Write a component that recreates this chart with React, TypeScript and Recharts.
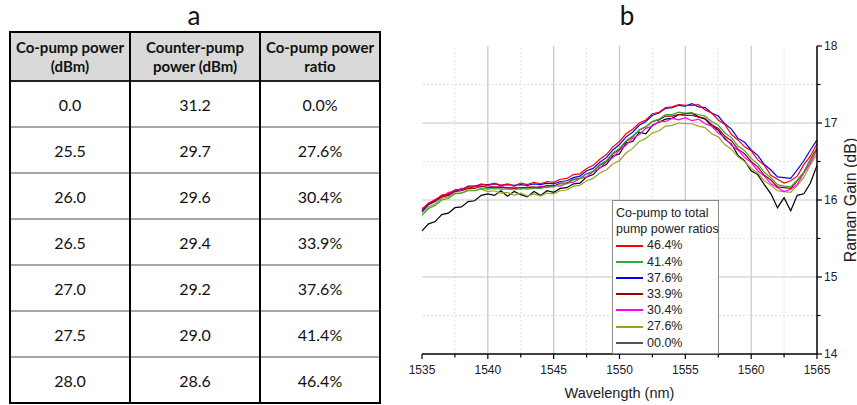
import { LineChart, Line, XAxis, YAxis, ReferenceLine, Legend } from "recharts";

// panel a: pump settings
const tableHeaders = [
  ["Co-pump power", "(dBm)"],
  ["Counter-pump", "power (dBm)"],
  ["Co-pump power", "ratio"],
];
const coPumpPower = ["0.0", "25.5", "26.0", "26.5", "27.0", "27.5", "28.0"];
const counterPumpPower = ["31.2", "29.7", "29.6", "29.4", "29.2", "29.0", "28.6"];
const coPumpRatio = ["0.0%", "27.6%", "30.4%", "33.9%", "37.6%", "41.4%", "46.4%"];

// panel b: Raman gain spectra (dB) vs wavelength (nm)
const wavelength = [
  1535, 1535.5, 1536, 1536.5, 1537, 1537.5, 1538, 1538.5, 1539, 1539.5,
  1540, 1540.5, 1541, 1541.5, 1542, 1542.5, 1543, 1543.5, 1544, 1544.5,
  1545, 1545.5, 1546, 1546.5, 1547, 1547.5, 1548, 1548.5, 1549, 1549.5,
  1550, 1550.5, 1551, 1551.5, 1552, 1552.5, 1553, 1553.5, 1554, 1554.5,
  1555, 1555.5, 1556, 1556.5, 1557, 1557.5, 1558, 1558.5, 1559, 1559.5,
  1560, 1560.5, 1561, 1561.5, 1562, 1562.5, 1563, 1563.5, 1564, 1564.5,
  1565,
];
const gain464 = [
  15.88, 15.96, 16.0, 16.06, 16.08, 16.13, 16.14, 16.17, 16.17, 16.21,
  16.19, 16.22, 16.19, 16.21, 16.18, 16.22, 16.2, 16.23, 16.21, 16.24,
  16.23, 16.27, 16.28, 16.33, 16.34, 16.41, 16.45, 16.53, 16.59, 16.69,
  16.76, 16.86, 16.92, 17.0, 17.04, 17.12, 17.14, 17.2, 17.21, 17.24,
  17.23, 17.23, 17.24, 17.17, 17.13, 17.04, 16.98, 16.85, 16.78, 16.69,
  16.64, 16.52, 16.45, 16.32, 16.27, 16.22, 16.25, 16.31, 16.46, 16.57,
  16.73,
];
const gain414 = [
  15.8, 15.89, 15.93, 16.0, 16.02, 16.08, 16.09, 16.12, 16.12, 16.15,
  16.14, 16.15, 16.14, 16.14, 16.13, 16.15, 16.14, 16.15, 16.15, 16.17,
  16.17, 16.21, 16.21, 16.26, 16.28, 16.34, 16.37, 16.46, 16.51, 16.61,
  16.67, 16.77, 16.83, 16.91, 16.95, 17.02, 17.05, 17.11, 17.11, 17.14,
  17.13, 17.13, 17.11, 17.09, 17.02, 16.97, 16.87, 16.81, 16.7, 16.64,
  16.54, 16.47, 16.36, 16.29, 16.2, 16.18, 16.17, 16.26, 16.36, 16.52,
  16.65,
];
const gain376 = [
  15.86, 15.95, 15.99, 16.06, 16.07, 16.13, 16.13, 16.18, 16.18, 16.2,
  16.2, 16.21, 16.19, 16.2, 16.19, 16.2, 16.19, 16.21, 16.2, 16.22,
  16.21, 16.24, 16.25, 16.29, 16.31, 16.38, 16.41, 16.49, 16.55, 16.65,
  16.72, 16.82, 16.88, 16.97, 17.02, 17.1, 17.13, 17.19, 17.2, 17.23,
  17.22, 17.25, 17.21, 17.2, 17.13, 17.09, 16.99, 16.92, 16.8, 16.75,
  16.65, 16.58, 16.46, 16.39, 16.3, 16.29, 16.28, 16.39, 16.51, 16.65,
  16.78,
];
const gain339 = [
  15.85, 15.94, 15.98, 16.04, 16.06, 16.11, 16.12, 16.15, 16.15, 16.18,
  16.16, 16.17, 16.16, 16.16, 16.15, 16.16, 16.16, 16.17, 16.16, 16.19,
  16.18, 16.22, 16.22, 16.27, 16.28, 16.34, 16.37, 16.45, 16.5, 16.6,
  16.66, 16.76, 16.82, 16.91, 16.95, 17.02, 17.04, 17.09, 17.09, 17.11,
  17.1, 17.1, 17.08, 17.06, 16.98, 16.93, 16.83, 16.77, 16.66, 16.6,
  16.5, 16.43, 16.32, 16.26, 16.17, 16.16, 16.15, 16.25, 16.36, 16.53,
  16.67,
];
const gain304 = [
  15.89, 15.94, 16.01, 16.04, 16.1, 16.11, 16.15, 16.15, 16.18, 16.17,
  16.19, 16.16, 16.18, 16.15, 16.17, 16.14, 16.17, 16.15, 16.18, 16.16,
  16.19, 16.18, 16.22, 16.23, 16.28, 16.3, 16.37, 16.41, 16.5, 16.55,
  16.65, 16.71, 16.8, 16.85, 16.93, 16.96, 17.02, 17.02, 17.06, 17.04,
  17.07, 17.03, 17.05, 16.99, 16.96, 16.87, 16.81, 16.71, 16.65, 16.55,
  16.49, 16.38, 16.31, 16.21, 16.16, 16.11, 16.14, 16.2, 16.35, 16.48,
  16.65,
];
const gain276 = [
  15.83, 15.91, 15.95, 16.02, 16.04, 16.09, 16.09, 16.13, 16.12, 16.14,
  16.11, 16.12, 16.09, 16.1, 16.06, 16.09, 16.05, 16.08, 16.05, 16.09,
  16.08, 16.12, 16.13, 16.18, 16.19, 16.25, 16.28, 16.35, 16.39, 16.47,
  16.51, 16.61, 16.67, 16.76, 16.8, 16.87, 16.9, 16.96, 16.97, 17.0,
  16.99, 16.99, 16.96, 16.94, 16.86, 16.82, 16.72, 16.66, 16.56, 16.5,
  16.41, 16.35, 16.25, 16.19, 16.12, 16.11, 16.1, 16.19, 16.29, 16.46,
  16.59,
];
const gain000 = [
  15.6, 15.69, 15.72, 15.81, 15.83, 15.9, 15.91, 15.98, 15.99, 16.06,
  16.08, 16.06, 16.12, 16.05, 16.11, 16.07, 16.04, 16.11, 16.06, 16.12,
  16.1, 16.15, 16.16, 16.21, 16.22, 16.3, 16.33, 16.42, 16.46, 16.57,
  16.6, 16.74, 16.76, 16.88, 16.86, 16.97, 17.01, 17.05, 17.06, 17.11,
  17.12, 17.13, 17.08, 17.05, 16.96, 16.91, 16.79, 16.73, 16.58, 16.51,
  16.38, 16.33, 16.2, 16.08, 15.9, 16.03, 15.86, 16.06, 16.08, 16.22,
  16.45,
];

const xMajorTicks = [1535, 1540, 1545, 1550, 1555, 1560, 1565];
const xMinorTicks = [1537.5, 1542.5, 1547.5, 1552.5, 1557.5, 1562.5];
const yMajorTicks = [14, 15, 16, 17, 18];
const yMinorTicks = [14.5, 15.5, 16.5, 17.5];
const xGridMajor = [1540, 1545, 1550, 1555, 1560];
const yGridMajor = [15, 16, 17];

// legend order as in the box, top to bottom
const series = [
  { key: "r464", name: "46.4%", color: "#ff0000", values: gain464 },
  { key: "r414", name: "41.4%", color: "#33aa33", values: gain414 },
  { key: "r376", name: "37.6%", color: "#0000ff", values: gain376 },
  { key: "r339", name: "33.9%", color: "#a00000", values: gain339 },
  { key: "r304", name: "30.4%", color: "#ff00ff", values: gain304 },
  { key: "r276", name: "27.6%", color: "#a0a020", values: gain276 },
  { key: "r000", name: "00.0%", color: "#000000", values: gain000 },
];
// black at the back, red on top
const drawOrder = ["r000", "r276", "r304", "r339", "r414", "r376", "r464"];

const data = wavelength.map((w, i) => {
  const row: Record<string, number> = { w };
  series.forEach((s) => (row[s.key] = s.values[i]));
  return row;
});

const AXIS_FONT = "'Liberation Sans', Arial, sans-serif";
const MINOR_GRID = { stroke: "#e2e2e2", strokeDasharray: "2 2" };
const MAJOR_GRID = { stroke: "#c6c6c6", strokeWidth: 1.2 };

function XTick({ x, y, payload }: any) {
  const major = xMajorTicks.includes(payload.value);
  return (
    <g>
      <line x1={x} y1={y} x2={x} y2={y + (major ? 5 : 3.5)} stroke="#000" strokeWidth={1.2} />
      {major && (
        <text x={x} y={y + 20} textAnchor="middle" fontSize={12} fill="#222">
          {payload.value}
        </text>
      )}
    </g>
  );
}

function YTick({ x, y, payload }: any) {
  const major = yMajorTicks.includes(payload.value);
  return (
    <g>
      <line x1={x} y1={y} x2={x + (major ? 5 : 3.5)} y2={y} stroke="#000" strokeWidth={1.2} />
      {major && (
        <text x={x + 7} y={y + 4} textAnchor="start" fontSize={12} fill="#222">
          {payload.value}
        </text>
      )}
    </g>
  );
}

function LegendBox() {
  return (
    <div
      style={{
        width: 107,
        boxSizing: "border-box",
        border: "1px solid #8a8a8a",
        background: "#fff",
        padding: "4px 3px 2px 3px",
        fontFamily: AXIS_FONT,
        fontSize: 12.5,
        lineHeight: "16.2px",
        color: "#222",
        textAlign: "left",
      }}
    >
      <div>Co-pump to total</div>
      <div style={{ whiteSpace: "nowrap" }}>pump power ratios</div>
      {series.map((s) => (
        <div key={s.key} style={{ display: "flex", alignItems: "center" }}>
          <span
            style={{
              display: "inline-block",
              width: 27,
              borderTop: `2px solid ${s.key === "r000" ? "#555" : s.color}`,
              marginRight: 4,
            }}
          />
          {s.name}
        </div>
      ))}
    </div>
  );
}

function PumpTable() {
  const cell = {
    borderLeft: "2px solid #000",
    borderRight: "2px solid #000",
    textAlign: "center" as const,
    padding: 0,
  };
  return (
    <table
      style={{
        position: "absolute",
        left: 9,
        top: 31,
        width: 370,
        borderCollapse: "collapse",
        tableLayout: "fixed",
        border: "2px solid #000",
        fontFamily: "Lato, 'Open Sans', sans-serif",
        color: "#111",
      }}
    >
      <colgroup>
        <col style={{ width: 120 }} />
        <col style={{ width: 130 }} />
        <col style={{ width: 120 }} />
      </colgroup>
      <thead>
        <tr style={{ height: 49, background: "#d9d9d9", borderBottom: "2px solid #222" }}>
          {tableHeaders.map((h) => (
            <th key={h[0] + h[1]} style={{ ...cell, fontSize: 15, fontWeight: 700, lineHeight: "19px" }}>
              {h[0]}
              <br />
              {h[1]}
            </th>
          ))}
        </tr>
      </thead>
      <tbody>
        {coPumpPower.map((p, i) => (
          <tr key={p} style={{ height: 46, borderTop: "2px solid #a6a6a6" }}>
            <td style={{ ...cell, fontSize: 16 }}>{p}</td>
            <td style={{ ...cell, fontSize: 16 }}>{counterPumpPower[i]}</td>
            <td style={{ ...cell, fontSize: 16 }}>{coPumpRatio[i]}</td>
          </tr>
        ))}
      </tbody>
    </table>
  );
}

const panelLabel = {
  position: "absolute" as const,
  top: 0,
  width: 28,
  textAlign: "center" as const,
  fontFamily: "Lato, sans-serif",
  fontSize: 26,
  lineHeight: "30px",
  color: "#111",
};

export default function App() {
  const byKey = Object.fromEntries(series.map((s) => [s.key, s]));
  return (
    <div style={{ position: "absolute", left: 0, top: 0, width: 857, height: 405, background: "#fff" }}>
      <div style={{ ...panelLabel, left: 180 }}>a</div>
      <div style={{ ...panelLabel, left: 613 }}>b</div>
      <PumpTable />
      <div style={{ position: "absolute", left: 400, top: 0, fontFamily: AXIS_FONT }}>
        <LineChart width={457} height={405} data={data} margin={{ top: 46, right: 0, bottom: 0, left: 22 }}>
          {xMinorTicks.map((v) => (
            <ReferenceLine key={`xm${v}`} x={v} {...MINOR_GRID} />
          ))}
          {yMinorTicks.map((v) => (
            <ReferenceLine key={`ym${v}`} y={v} {...MINOR_GRID} />
          ))}
          {xGridMajor.map((v) => (
            <ReferenceLine key={`xg${v}`} x={v} {...MAJOR_GRID} />
          ))}
          {yGridMajor.map((v) => (
            <ReferenceLine key={`yg${v}`} y={v} {...MAJOR_GRID} />
          ))}
          <XAxis
            dataKey="w"
            type="number"
            domain={[1535, 1565]}
            ticks={[...xMajorTicks, ...xMinorTicks].sort((a, b) => a - b)}
            interval={0}
            tickSize={0}
            tickMargin={0}
            tickLine={false}
            tick={<XTick />}
            axisLine={{ stroke: "#000", strokeWidth: 1.5 }}
            height={51}
            label={{
              content: ({ viewBox }: any) => (
                <text
                  x={viewBox.x + viewBox.width / 2}
                  y={viewBox.y + 44}
                  textAnchor="middle"
                  fontSize={14.5}
                  fill="#222"
                >
                  Wavelength (nm)
                </text>
              ),
            }}
          />
          <YAxis
            orientation="right"
            type="number"
            domain={[14, 18]}
            ticks={[...yMajorTicks, ...yMinorTicks].sort((a, b) => a - b)}
            interval={0}
            tickSize={0}
            tickMargin={0}
            tickLine={false}
            tick={<YTick />}
            axisLine={{ stroke: "#000", strokeWidth: 1.5 }}
            width={40}
            label={{
              content: ({ viewBox }: any) => (
                <text
                  x={viewBox.x + 33}
                  y={viewBox.y + viewBox.height / 2}
                  transform={`rotate(-90, ${viewBox.x + 33}, ${viewBox.y + viewBox.height / 2})`}
                  textAnchor="middle"
                  dominantBaseline="central"
                  fontSize={16}
                  fill="#222"
                >
                  Raman Gain (dB)
                </text>
              ),
            }}
          />
          {drawOrder.map((k) => (
            <Line
              key={k}
              dataKey={k}
              name={byKey[k].name}
              stroke={byKey[k].color}
              strokeWidth={1.2}
              dot={false}
              isAnimationActive={false}
            />
          ))}
          <Legend
            layout="vertical"
            align="center"
            verticalAlign="middle"
            content={<LegendBox />}
            wrapperStyle={{ left: 212, top: 200, width: 107 }}
          />
        </LineChart>
      </div>
    </div>
  );
}
